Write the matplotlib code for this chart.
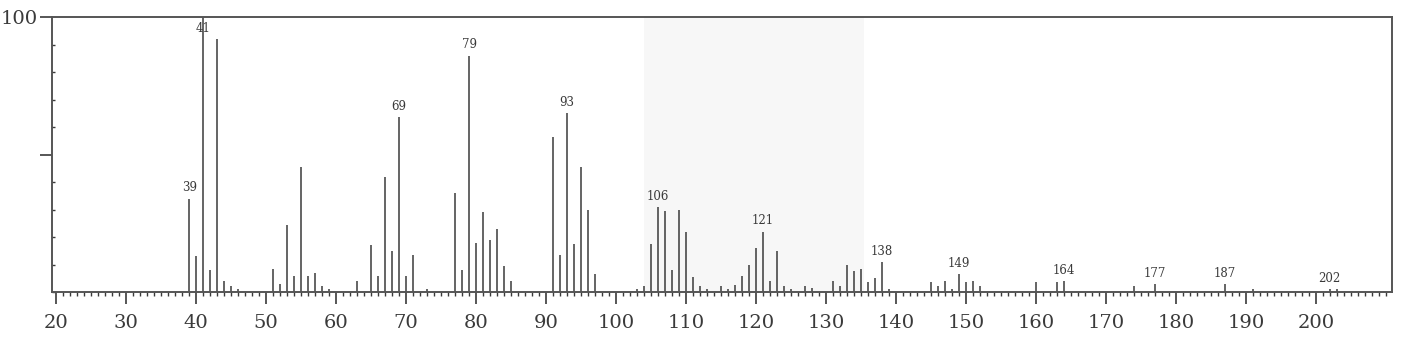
import matplotlib

matplotlib.use("Agg")
import matplotlib.pyplot as plt
from matplotlib.ticker import MultipleLocator, FixedLocator

# ---------------------------------------------------------------------------
# Spectrum data (m/z, relative abundance %)
# ---------------------------------------------------------------------------
mz = [
    39, 40, 41, 42, 43, 44, 45, 46,
    51, 52, 53, 54, 55, 56, 57, 58, 59,
    63, 65, 66, 67, 68, 69, 70, 71, 73,
    77, 78, 79, 80, 81, 82, 83, 84, 85,
    91, 92, 93, 94, 95, 96, 97,
    103, 104, 105, 106, 107, 108, 109, 110, 111, 112, 113,
    115, 116, 117, 118, 119, 120, 121, 122, 123, 124, 125, 127, 128,
    131, 132, 133, 134, 135, 136, 137, 138, 139,
    145, 146, 147, 148, 149, 150, 151, 152,
    160, 163, 164, 174, 177, 187, 191, 202, 203,
]
abundance = [
    34, 13, 100, 8, 92, 4, 2, 1,
    8.5, 3, 24.5, 6, 45.5, 6, 7, 2, 1,
    4, 17, 6, 42, 15, 63.5, 6, 13.5, 1,
    36, 8, 86, 18, 29, 19, 23, 9.5, 4,
    56.5, 13.5, 65, 17.5, 45.5, 30, 6.5,
    1, 2, 17.5, 31, 29.5, 8, 30, 22, 5.5, 2, 1,
    2, 1, 2.5, 6, 10, 16, 22, 4, 15, 2, 1, 2, 1.5,
    4, 2, 10, 7.5, 8.5, 3.5, 5, 11, 1,
    3.5, 2, 4, 1, 6.5, 3.5, 4, 2,
    3.5, 3.5, 4, 2, 3, 3, 1, 1, 1,
]
labelled = [39, 41, 69, 79, 93, 106, 121, 138, 149, 164, 177, 187, 202]
x_ticks = list(range(20, 201, 10))

INK = "#3a3a3a"
SERIF = ["DejaVu Serif"]

fig = plt.figure(figsize=(14.02, 3.41), dpi=100)
ax = fig.add_axes([0.0371, 0.1437, 0.9558, 0.8063])

# faint grey scan patch behind the middle of the spectrum
ax.axvspan(104, 135.5, color="#f7f7f7", zorder=0, lw=0)

ax.vlines(mz, 0, abundance, color=INK, lw=1.1, zorder=2)

for m in labelled:
    h = abundance[mz.index(m)]
    if h >= 99:
        # base peak: label sits on the line just under the frame
        ax.text(m, 96, str(m), ha="center", va="center", fontsize=8.5,
                family=SERIF, color=INK, zorder=3)
    else:
        ax.annotate(str(m), (m, h), xytext=(0, 3), textcoords="offset points",
                    ha="center", va="bottom", fontsize=8.5, family=SERIF,
                    color=INK)

ax.set_xlim(19.4, 210.9)
ax.set_ylim(0, 100)

for side in ("left", "right", "top", "bottom"):
    ax.spines[side].set_color("#555555")
    ax.spines[side].set_linewidth(1.4)

ax.xaxis.set_major_locator(FixedLocator(x_ticks))
ax.xaxis.set_minor_locator(FixedLocator(list(range(20, 211))))
ax.tick_params(axis="x", which="major", direction="out", length=8.5, width=1.2,
               color=INK, pad=7, labelsize=14, labelcolor=INK)
ax.tick_params(axis="x", which="minor", direction="out", length=3, width=1.0,
               color=INK)
for lbl in ax.get_xticklabels():
    lbl.set_family(SERIF)

ax.yaxis.set_major_locator(FixedLocator([50, 100]))
ax.yaxis.set_minor_locator(MultipleLocator(10))
ax.set_yticklabels(["", "100"])
ax.tick_params(axis="y", which="major", direction="out", length=9, width=1.2,
               color=INK, pad=1, labelsize=14, labelcolor=INK)
ax.tick_params(axis="y", which="minor", direction="in", length=2.5, width=1.0,
               color=INK)
for lbl in ax.get_yticklabels():
    lbl.set_family(SERIF)

fig.savefig("out.png", dpi=100)
plt.close(fig)
